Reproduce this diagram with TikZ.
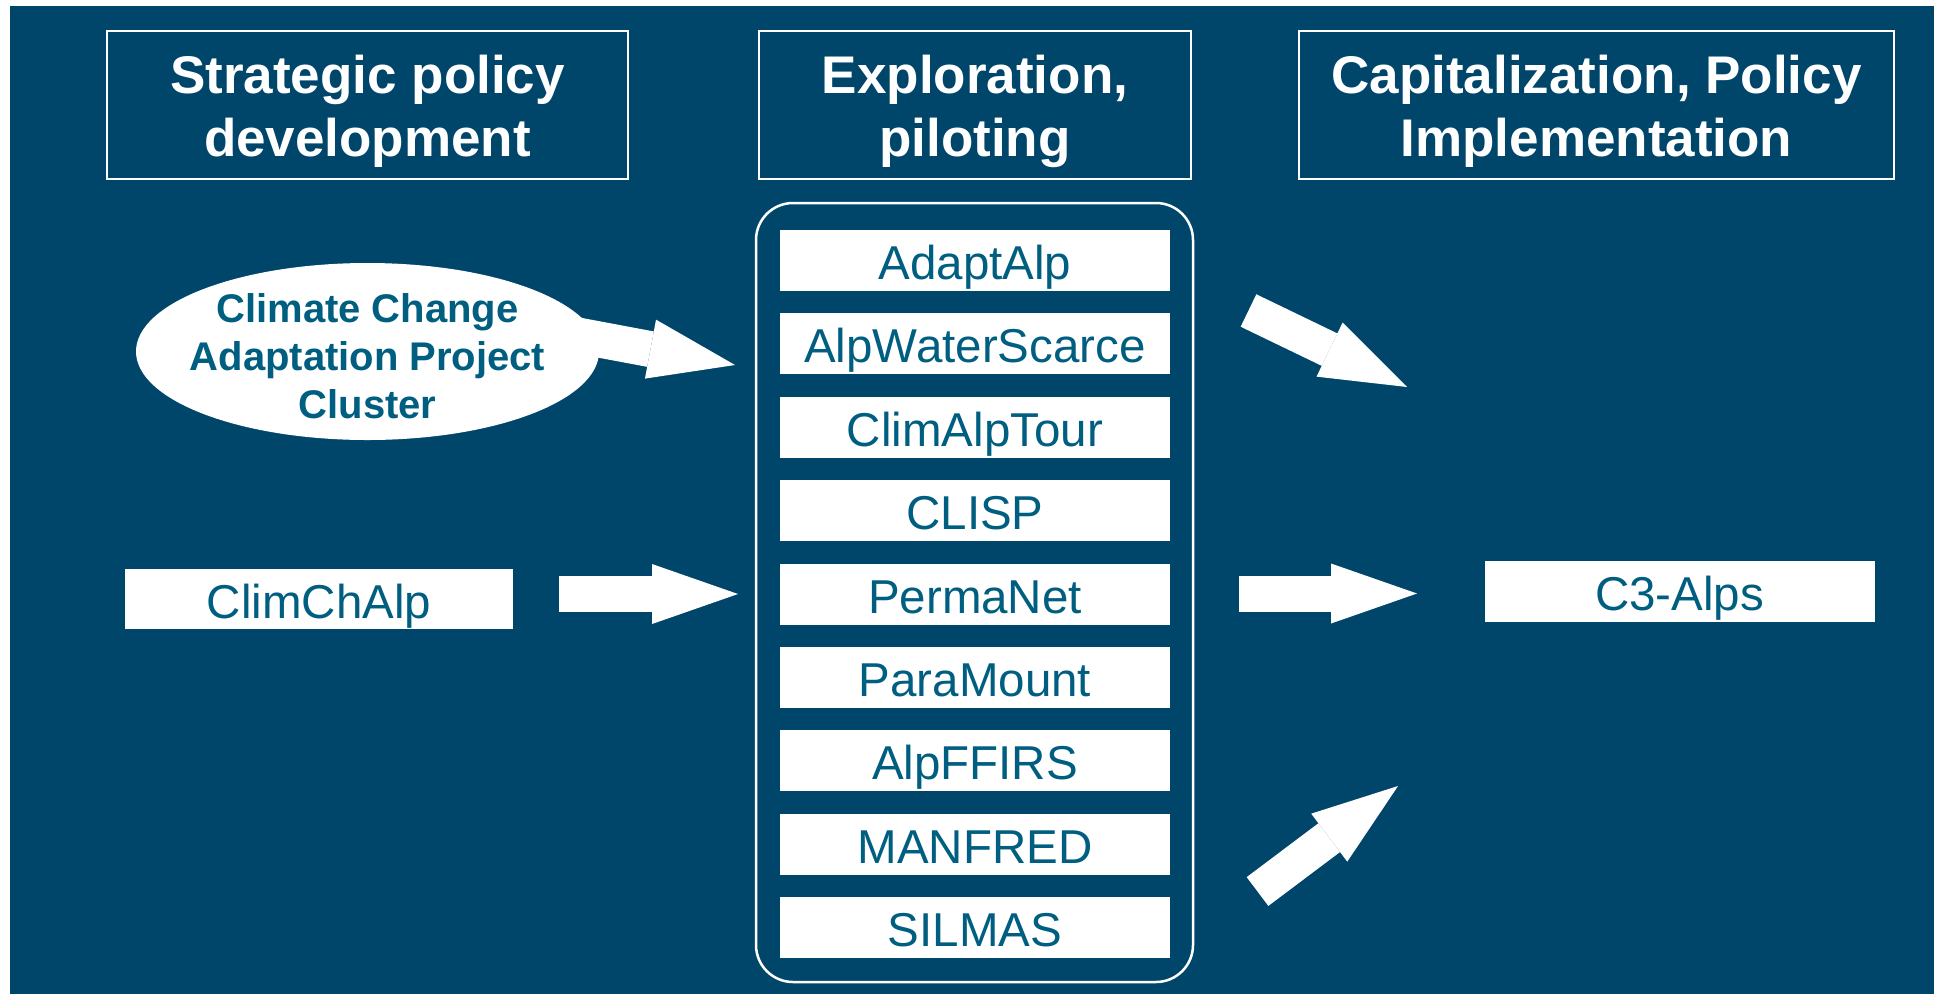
\documentclass[tikz,border=0pt]{standalone}
\usepackage{fontspec}
\setmainfont{Liberation Sans}
\usetikzlibrary{positioning}
\usetikzlibrary{shapes.geometric}
\usetikzlibrary{arrows.meta}

\definecolor{bgblue}{HTML}{00466A}
\definecolor{txtblue}{HTML}{005E80}

\tikzset{
	phase/.style={draw=white, line width=2pt, minimum width=521pt, minimum height=148pt},
	phasetext/.style={text=white, align=center, inner sep=0pt, font=\fontsize{53}{63}\selectfont\bfseries},
	project/.style={fill=white, text=txtblue, minimum width=390pt, minimum height=61pt, inner sep=0pt, text height=43pt, text depth=5pt, font=\fontsize{47.5}{56}\selectfont},
	bigarrow/.style={white, line width=36pt, -{Triangle[length=86pt,width=60pt,line width=0pt]}}
}

\begin{document}
\begin{tikzpicture}[x=1pt,y=-1pt,node distance=22pt]
	\useasboundingbox (0,0) rectangle (1934,994);
	\fill[white] (0,0) rectangle (1934,994);
	\fill[bgblue] (10,6) rectangle (1934,994);

	\node[phase] (P1) at (367.5,105) {};
	\node[phase, minimum width=432pt] (P2) at (975,105) {};
	\node[phase, minimum width=595pt] (P3) at (1596.5,105) {};
	\node[phasetext] (T1) at ([yshift=-6pt]P1) {Strategic policy\\development};
	\node[phasetext] (T2) at ([yshift=-6pt]P2) {Exploration,\\piloting};
	\node[phasetext] (T3) at ([yshift=-6pt]P3) {Capitalization, Policy\\Implementation};

	\node[draw=white, line width=2.5pt, rounded corners=37pt, minimum width=437pt, minimum height=779pt] (pilots) at (974.5,592.5) {};
	\node[project] (A1) at (975,260.5) {AdaptAlp};
	\node[project, below=of A1] (A2) {AlpWaterScarce};
	\node[project, below=of A2] (A3) {ClimAlpTour};
	\node[project, below=of A3] (A4) {CLISP};
	\node[project, below=of A4] (A5) {PermaNet};
	\node[project, below=of A5] (A6) {ParaMount};
	\node[project, below=of A6] (A7) {AlpFFIRS};
	\node[project, below=of A7] (A8) {MANFRED};
	\node[project, below=of A8] (A9) {SILMAS};

	\coordinate (clusterout) at (538,328);
	\coordinate (clusterin) at (735,365);
	\coordinate (climchout) at (559,594);
	\coordinate (climchin) at (738,594);
	\coordinate (upout) at (1248.5,310.5);
	\coordinate (upin) at (1407,387);
	\coordinate (midout) at (1239,593.5);
	\coordinate (midin) at (1417,593.5);
	\coordinate (lowout) at (1257.5,891.5);
	\coordinate (lowin) at (1398,786);

	\draw[bigarrow] (clusterout) -- (clusterin);
	\node[ellipse, fill=white, inner sep=0pt, minimum width=463pt, minimum height=177pt] (cluster) at (367.5,351.5) {};
	\node[text=txtblue, align=center, inner sep=0pt, font=\fontsize{40}{48}\selectfont\bfseries] (clustertext) at ([yshift=-5pt]cluster) {Climate Change\\Adaptation Project\\Cluster};
	\node[project, minimum width=388pt, minimum height=60pt] (climch) at (319,599) {ClimChAlp};
	\node[project] (c3) at (1679.5,591.5) {C3-Alps};

	\draw[bigarrow] (climchout) -- (climchin);
	\draw[bigarrow] (upout) -- (upin);
	\draw[bigarrow] (midout) -- (midin);
	\draw[bigarrow] (lowout) -- (lowin);
\end{tikzpicture}
\end{document}
